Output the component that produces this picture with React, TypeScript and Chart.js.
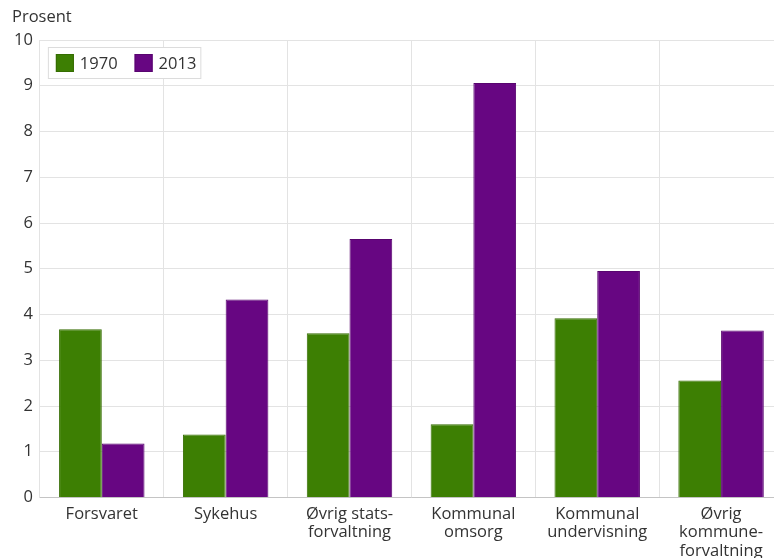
import React, { useEffect, useRef } from "react";
import { Chart, registerables } from "chart.js";

Chart.register(...registerables);

const categories: (string | string[])[] = [
  "Forsvaret",
  "Sykehus",
  ["Øvrig stats-", "forvaltning"],
  ["Kommunal", "omsorg"],
  ["Kommunal", "undervisning"],
  ["Øvrig", "kommune-", "forvaltning"],
];
const values1970 = [3.68, 1.38, 3.59, 1.6, 3.92, 2.56];
const values2013 = [1.18, 4.33, 5.65, 9.06, 4.95, 3.65];
const seriesLabels = ["1970", "2013"];
const yTitle = "Prosent";

const GREEN = "#3d7f03";
const PURPLE = "#670682";
const FONT = "'Open Sans', 'Noto Sans', sans-serif";
const FS = 16.5;

const boxLegend = {
  id: "boxLegend",
  afterDraw(chart: any) {
    const ctx = chart.ctx;
    const a = chart.chartArea;
    ctx.save();
    // axis title
    ctx.font = `${FS}px ${FONT}`;
    ctx.fillStyle = "#333333";
    ctx.textBaseline = "middle";
    ctx.textAlign = "left";
    ctx.fillText(yTitle, 12, 17);

    const x0 = a.left + 8;
    const y0 = a.top + 7;
    const ds = chart.data.datasets;
    let w = 8;
    ds.forEach((d: any, i: number) => {
      w += 18 + 6 + ctx.measureText(d.label).width + (i < ds.length - 1 ? 17 : 5);
    });
    const h = 32;
    ctx.fillStyle = "#ffffff";
    ctx.fillRect(x0, y0, w, h);
    ctx.strokeStyle = "#dcdcdc";
    ctx.lineWidth = 1;
    ctx.strokeRect(x0 + 0.5, y0 + 0.5, w - 1, h - 1);
    let x = x0 + 8;
    const cy = y0 + h / 2;
    ds.forEach((d: any) => {
      ctx.fillStyle = d.backgroundColor;
      ctx.fillRect(x, cy - 9, 18, 18);
      ctx.strokeStyle = d.borderColor;
      ctx.strokeRect(x + 0.5, cy - 8.5, 17, 17);
      x += 18 + 6;
      ctx.fillStyle = "#333333";
      ctx.textBaseline = "middle";
      ctx.textAlign = "left";
      ctx.fillText(d.label, x, cy + 1);
      x += ctx.measureText(d.label).width + 17;
    });
    ctx.restore();
  },
};

export default function App() {
  const ref = useRef<HTMLCanvasElement>(null);
  useEffect(() => {
    if (!ref.current) return;
    const chart = new Chart(ref.current, {
      type: "bar",
      data: {
        labels: categories,
        datasets: [
          {
            label: seriesLabels[0],
            data: values1970,
            backgroundColor: GREEN,
            borderColor: "#356d02",
            borderWidth: 1,
            categoryPercentage: 0.69,
            barPercentage: 1,
          },
          {
            label: seriesLabels[1],
            data: values2013,
            backgroundColor: PURPLE,
            borderColor: "#58056f",
            borderWidth: 1,
            categoryPercentage: 0.69,
            barPercentage: 1,
          },
        ],
      },
      options: {
        animation: false,
        responsive: false,
        maintainAspectRatio: false,
        layout: { padding: { left: 7, right: 7, top: 40, bottom: 0 } },
        plugins: {
          legend: { display: false },
          tooltip: { enabled: false },
          title: { display: false },
        },
        scales: {
          x: {
            offset: true,
            grid: {
              offset: true,
              color: "#e3e3e3",
              drawTicks: false,
            },
            border: { color: "#c4c4c4" },
            ticks: {
              color: "#333333",
              font: { family: FONT, size: FS, lineHeight: 1.1 },
              padding: 8,
              maxRotation: 0,
              autoSkip: false,
            },
          },
          y: {
            min: 0,
            max: 10,
            grid: { color: "#e3e3e3", drawTicks: false },
            border: { color: "#e3e3e3" },
            ticks: {
              stepSize: 1,
              color: "#333333",
              font: { family: FONT, size: FS },
              padding: 7,
            },
          },
        },
      },
      plugins: [boxLegend],
    });
    return () => chart.destroy();
  }, []);
  return (
    <div
      style={{
        position: "fixed",
        left: 0,
        top: 0,
        width: 774,
        height: 558,
        overflow: "hidden",
        background: "#fff",
      }}
    >
      <canvas ref={ref} width={790} height={568} style={{ display: "block" }} />
    </div>
  );
}
